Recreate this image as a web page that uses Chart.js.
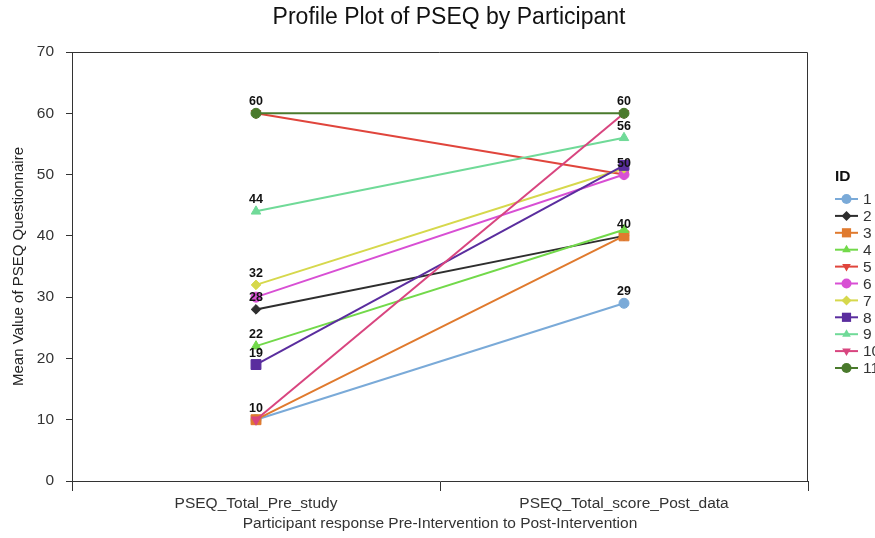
<!DOCTYPE html>
<html>
<head>
<meta charset="utf-8">
<script src="https://cdn.jsdelivr.net/npm/chart.js@4.4.1/dist/chart.umd.min.js"></script>
<style>
html,body{margin:0;padding:0;background:#fff;overflow:hidden;}
#wrap{position:relative;width:875px;height:538px;}
</style>
</head>
<body>
<div id="wrap"><canvas id="c" width="875" height="538"></canvas></div>
<script>
// ---- data ----
const categories = ["PSEQ_Total_Pre_study", "PSEQ_Total_score_Post_data"];
const ids = ["1","2","3","4","5","6","7","8","9","10","11"];
const preValues  = [10, 28, 10, 22, 60, 30, 32, 19, 44, 10, 60];
const postValues = [29, 40, 40, 41, 50, 50, 51, 51.5, 56, 60, 60];
const preLabels  = [60, 44, 32, 28, 22, 19, 10];
const postLabels = [60, 56, 50, 40, 29];
const yTicks = [0, 10, 20, 30, 40, 50, 60, 70];

// ---- styles ----
const colors = ["#7aaad8", "#2e2e2e", "#e07a2e", "#72d94a", "#e0453c", "#d84fd4", "#d6d84c", "#5a2d9e", "#70da98", "#d8457f", "#4a7a2c"];
const styles = ["circle", "rectRot", "rect", "triangle", "triangle", "circle", "rectRot", "rect", "triangle", "triangle", "circle"];
const rotations = [0, 0, 0, 0, 180, 0, 0, 0, 0, 180, 0];
const radii = {circle: 5, rectRot: 4.8, rect: 7, triangle: 5.5};

const FONT = "'Liberation Sans', Arial, sans-serif";

const datasets = ids.map((id, i) => ({
  label: id,
  data: [preValues[i], postValues[i]],
  borderColor: colors[i],
  backgroundColor: colors[i],
  pointStyle: styles[i],
  pointRotation: rotations[i],
  pointRadius: radii[styles[i]],
  pointBorderWidth: 1,
  borderWidth: 2,
  order: ids.length - 1 - i,
  tension: 0
}));

const decor = {
  id: "decor",
  afterDraw(chart) {
    const ctx = chart.ctx;
    const a = chart.chartArea;
    const xs = chart.scales.x, ys = chart.scales.y;
    ctx.save();
    // frame top/right
    ctx.strokeStyle = "#333";
    ctx.lineWidth = 1;
    ctx.beginPath();
    ctx.moveTo(a.left, a.top + 0.5);
    ctx.lineTo(a.right - 0.5, a.top + 0.5);
    ctx.lineTo(a.right - 0.5, a.bottom);
    ctx.stroke();
    // title
    ctx.fillStyle = "#111";
    ctx.font = "23px " + FONT;
    ctx.textAlign = "center";
    ctx.textBaseline = "middle";
    ctx.fillText("Profile Plot of PSEQ by Participant", 449, 18);
    // data labels
    ctx.font = "bold 12.5px " + FONT;
    ctx.fillStyle = "#111";
    ctx.textBaseline = "alphabetic";
    preLabels.forEach(v => ctx.fillText(String(v), xs.getPixelForValue(0), ys.getPixelForValue(v) - 8));
    postLabels.forEach(v => ctx.fillText(String(v), xs.getPixelForValue(1), ys.getPixelForValue(v) - 8));
    // legend
    ctx.textAlign = "left";
    ctx.textBaseline = "middle";
    ctx.font = "bold 15.5px " + FONT;
    ctx.fillStyle = "#111";
    ctx.fillText("ID", 835, 177);
    ctx.font = "15.5px " + FONT;
    chart.data.datasets.forEach((ds, i) => {
      const y = 199 + i * 16.9;
      ctx.strokeStyle = ds.borderColor;
      ctx.lineWidth = 2;
      ctx.beginPath();
      ctx.moveTo(835, y);
      ctx.lineTo(858, y);
      ctx.stroke();
      ctx.fillStyle = ds.backgroundColor;
      const r = ds.pointStyle === "rect" ? 6.5 : 5;
      Chart.helpers.drawPoint(ctx, {pointStyle: ds.pointStyle, rotation: ds.pointRotation, radius: r, borderWidth: 0}, 846.5, y);
      ctx.fillStyle = "#333";
      ctx.fillText(ds.label, 863, y + 1);
    });
    ctx.restore();
  }
};

new Chart(document.getElementById("c"), {
  type: "line",
  data: { labels: categories, datasets },
  options: {
    responsive: false,
    animation: false,
    layout: { padding: { top: 52, right: 67, left: 0, bottom: 0 } },
    plugins: { legend: { display: false }, tooltip: { enabled: false }, title: { display: false } },
    scales: {
      x: {
        type: "category",
        offset: true,
        grid: { offset: true, drawOnChartArea: false, drawTicks: true, tickLength: 10, color: "#333", lineWidth: 1 },
        border: { display: true, color: "#333", width: 1 },
        ticks: { color: "#333", font: { size: 15.5, family: FONT }, padding: 3, maxRotation: 0 },
        title: { display: true, text: "Participant response Pre-Intervention to Post-Intervention", color: "#333", font: { size: 15.5, family: FONT }, padding: { top: 4, bottom: 5 } },
        afterFit(s) { s.height = 57; }
      },
      y: {
        min: 0, max: 70,
        afterBuildTicks(s) { s.ticks = yTicks.map(v => ({ value: v })); },
        grid: { drawOnChartArea: false, drawTicks: true, tickLength: 6, color: "#333" },
        border: { display: true, color: "#333", width: 1 },
        ticks: { color: "#333", font: { size: 15.5, family: FONT }, padding: 12 },
        title: { display: true, text: "Mean Value of PSEQ Questionnaire", color: "#222", font: { size: 15, family: FONT }, padding: { top: 10, bottom: 8 } },
        afterFit(s) { s.width = 72; }
      }
    }
  },
  plugins: [decor]
});
</script>
</body>
</html>
